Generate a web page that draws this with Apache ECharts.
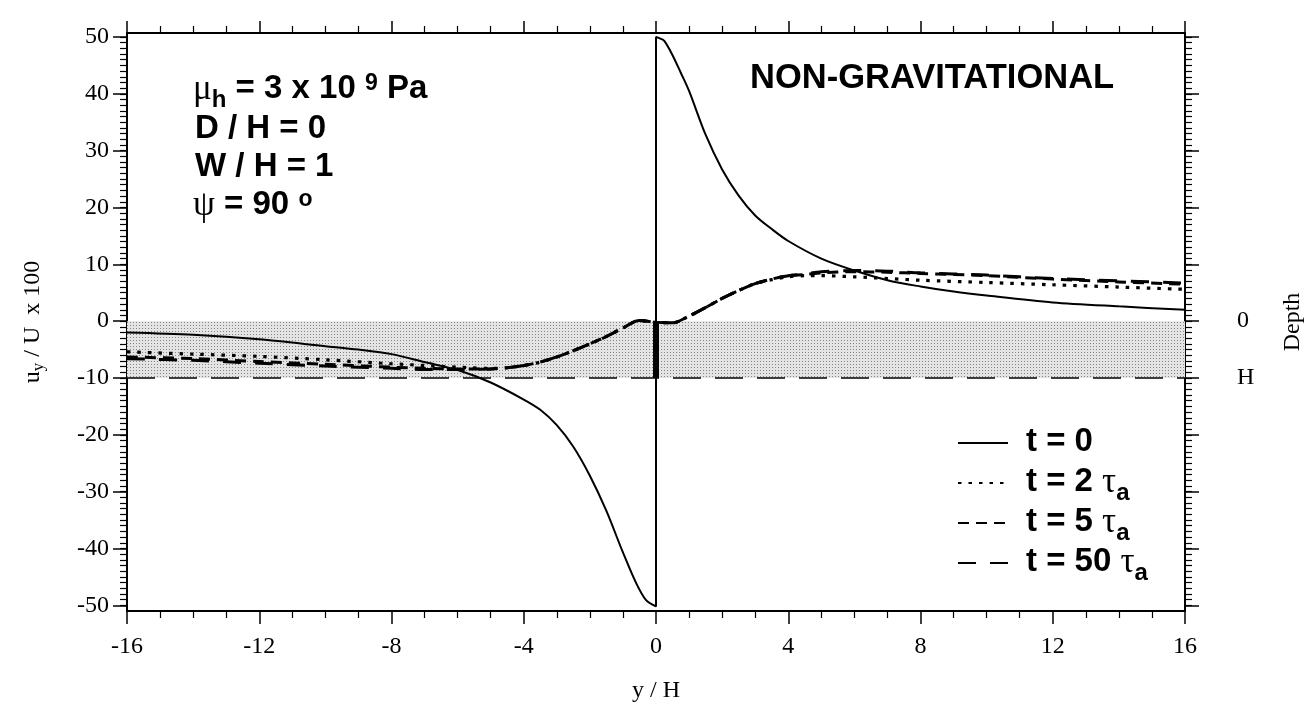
<!DOCTYPE html>
<html><head><meta charset="utf-8">
<script src="https://cdn.jsdelivr.net/npm/echarts@6/dist/echarts.min.js"></script>
<style>html,body{margin:0;padding:0;background:#fff}#c{width:1313px;height:713px}</style>
</head><body><div id="c"></div>
<script>
// ---- data ----
const t0X = [-16,-14,-12,-10,-9,-8,-7,-6,-5,-4,-3.5,-3,-2.5,-2,-1.5,-1,-0.6,-0.3,0,
             0,0.1,0.25,0.5,0.75,1,1.5,2,2.5,3,3.5,4,5,6,7,8,9,10,12,14,16];
const t0Y = [-2.0,-2.4,-3.2,-4.4,-5.0,-5.8,-7.2,-8.6,-10.8,-13.8,-15.6,-18.3,-22.1,-27.2,-33.4,-40.7,-46.1,-49.1,-50.2,
             50.0,49.8,49.3,46.8,43.7,40.5,32.8,26.7,22.1,18.6,16.2,14.1,11.0,8.9,7.2,6.1,5.2,4.5,3.3,2.6,2.0];
const relaxX = [-16,-14,-12,-10,-8,-7,-6,-5,-4.5,-4,-3.5,-3,-2.5,-2,-1.5,-1,-0.5,0,0.5,1,1.5,2,2.5,3,3.5,4,4.5,5,6,7,8,10,12,14,16];
const t2Y  = [-5.4,-5.8,-6.2,-6.8,-7.5,-7.8,-8.1,-8.3,-8.2,-7.8,-7.2,-6.3,-5.2,-4.0,-2.7,-1.2,0.1,-0.2,-0.3,0.9,2.4,4.0,5.4,6.6,7.3,7.8,8.0,8.0,7.8,7.5,7.2,6.8,6.4,6.0,5.6];
const t5Y  = [-6.3,-6.6,-7.1,-7.6,-8.1,-8.3,-8.4,-8.4,-8.2,-7.8,-7.2,-6.3,-5.2,-4.0,-2.7,-1.2,0.1,-0.2,-0.3,0.9,2.4,4.0,5.4,6.6,7.4,8.0,8.2,8.5,8.7,8.6,8.4,8.0,7.4,6.9,6.5];
const t50Y = [-6.6,-6.9,-7.4,-7.9,-8.3,-8.5,-8.5,-8.4,-8.2,-7.8,-7.2,-6.3,-5.2,-4.0,-2.7,-1.2,0.1,-0.2,-0.3,0.9,2.4,4.0,5.4,6.6,7.4,8.0,8.3,8.7,8.9,8.8,8.5,8.1,7.5,7.1,6.7];
const depthBand = [0, -10];          // y values of depth 0 and depth H
const faultX = 0;
const xRange = [-16, 16];
const yRange = [-51, 50.7];
const yMajorTicks = [-50,-40,-30,-20,-10,0,10,20,30,40,50];
const yMinorTicks = Array.from({length:101}, (_, i) => i - 50);
const depthTicks = [0, -10];
const depthTickLabels = ['0', 'H'];
const seriesNames = ['t0', 't2', 't5', 't50'];
const legendLabels = ['{b|t = 0}{sub| }', '{b|t = 2 }{g|τ}{sub|a}', '{b|t = 5 }{g|τ}{sub|a}', '{b|t = 50 }{g|τ}{sub|a}'];

const zip = (xs, ys) => xs.map((x, i) => [x, ys[i]]);

const SERIF = '"Liberation Serif", "Times New Roman", serif';
const SANS = '"Liberation Sans", Arial, sans-serif';
const R = {
  sp:  {width: 13},
  b:   {fontFamily: SANS, fontWeight: 'bold', fontSize: 33, lineHeight: 36, verticalAlign: 'top', color: '#000'},
  g:   {fontFamily: SERIF, fontSize: 35, lineHeight: 36, verticalAlign: 'top', color: '#000'},
  sub: {fontFamily: SANS, fontWeight: 'bold', fontSize: 24, lineHeight: 24, padding: [16, 0, 0, 0], verticalAlign: 'top', color: '#000'},
  sup: {fontFamily: SANS, fontWeight: 'bold', fontSize: 23, lineHeight: 23, verticalAlign: 'top', color: '#000'}
};

// stipple pattern for the layer
const pc = document.createElement('canvas');
pc.width = 3; pc.height = 3;
const pctx = pc.getContext('2d');
pctx.fillStyle = '#e4e4e4'; pctx.fillRect(0, 0, 3, 3);
pctx.fillStyle = '#858585'; pctx.fillRect(1, 1, 1, 1);

const axisCommon = {
  axisLine: {show: true, onZero: false, lineStyle: {color: '#000', width: 2}},
  splitLine: {show: false}
};
const tickFont = {fontFamily: SERIF, fontSize: 24, color: '#000'};

const chart = echarts.init(document.getElementById('c'), null, {renderer: 'canvas'});
chart.setOption({
  backgroundColor: '#fff',
  animation: false,
  grid: {left: 127, right: 127, top: 33, bottom: 102, containLabel: false},
  xAxis: [
    Object.assign({}, axisCommon, {
      type: 'value', position: 'bottom', min: xRange[0], max: xRange[1], interval: 4,
      axisTick: {show: true, inside: false, length: 13, lineStyle: {color: '#000', width: 1.5}},
      minorTick: {show: true, splitNumber: 4, length: 7, lineStyle: {color: '#000', width: 1.2}},
      axisLabel: Object.assign({margin: 24}, tickFont),
      name: 'y / H', nameLocation: 'middle', nameGap: 68,
      nameTextStyle: {fontFamily: SERIF, fontSize: 24, color: '#000'}
    }),
    Object.assign({}, axisCommon, {
      type: 'value', position: 'top', min: xRange[0], max: xRange[1], interval: 4,
      axisTick: {show: true, inside: false, length: 12, lineStyle: {color: '#000', width: 1.5}},
      minorTick: {show: true, splitNumber: 4, length: 7, lineStyle: {color: '#000', width: 1.2}},
      axisLabel: {show: false}
    })
  ],
  yAxis: [
    Object.assign({}, axisCommon, {
      type: 'value', position: 'left', min: yRange[0], max: yRange[1],
      axisTick: {show: true, inside: false, length: 14, customValues: yMajorTicks, lineStyle: {color: '#000', width: 1.5}},
      axisLabel: Object.assign({margin: 18, customValues: yMajorTicks}, tickFont),
      name: '{a|u}{s|y}{a| / U  x 100}', nameLocation: 'middle', nameGap: 80, nameRotate: 90,
      nameTextStyle: {rich: {
        a: {fontFamily: SERIF, fontSize: 24, color: '#000'},
        s: {fontFamily: SERIF, fontSize: 17, color: '#000', padding: [12, 0, 0, 0]}
      }}
    }),
    {
      type: 'value', position: 'left', min: yRange[0], max: yRange[1],
      axisLine: {show: false, onZero: false}, splitLine: {show: false}, axisLabel: {show: false},
      axisTick: {show: true, inside: false, length: 7, customValues: yMinorTicks, lineStyle: {color: '#000', width: 1.2}}
    },
    Object.assign({}, axisCommon, {
      type: 'value', position: 'right', min: yRange[0], max: yRange[1],
      axisTick: {show: true, inside: false, length: 14, customValues: yMajorTicks, lineStyle: {color: '#000', width: 1.5}},
      axisLabel: Object.assign({margin: 52, customValues: depthTicks,
        formatter: v => depthTickLabels[depthTicks.indexOf(v)] || ''}, tickFont),
      name: 'Depth', nameLocation: 'middle', nameGap: 96, nameRotate: 90,
      nameTextStyle: {fontFamily: SERIF, fontSize: 24, color: '#000'}
    }),
    {
      type: 'value', position: 'right', min: yRange[0], max: yRange[1],
      axisLine: {show: false, onZero: false}, splitLine: {show: false}, axisLabel: {show: false},
      axisTick: {show: true, inside: false, length: 7, customValues: yMinorTicks, lineStyle: {color: '#000', width: 1.2}}
    }
  ],
  legend: {
    data: seriesNames, orient: 'vertical', left: 952, top: 420,
    itemWidth: 50, itemHeight: 16, itemGap: 0,
    itemStyle: {opacity: 0},
    formatter: name => '{sp|}' + legendLabels[seriesNames.indexOf(name)],
    textStyle: {rich: R},
    selectedMode: false
  },
  graphic: [
    {type: 'text', x: 193, y: 72, style: {text: '{g|μ}{sub|h}{b| = 3 x 10 }{sup|9}{b| Pa}', rich: R}},
    {type: 'text', x: 195, y: 112, style: {text: '{b|D / H = 0}', rich: R}},
    {type: 'text', x: 195, y: 150, style: {text: '{b|W / H = 1}', rich: R}},
    {type: 'text', x: 193, y: 188, style: {text: '{g|ψ}{b| = 90 }{sup|o}', rich: R}},
    {type: 'text', x: 750, y: 61, style: {text: '{b|NON-GRAVITATIONAL}', rich: {b: Object.assign({}, R.b, {fontSize: 34.5})}}}
  ],
  series: [
    {
      name: 'depthH', type: 'line', z: 1, silent: true, symbol: 'none',
      data: [[xRange[0], depthBand[1]], [xRange[1], depthBand[1]]],
      lineStyle: {color: '#000', width: 1.5, type: [28, 14]},
      markArea: {silent: true, itemStyle: {color: {image: pc, repeat: 'repeat'}},
        data: [[{coord: [xRange[0], depthBand[0]]}, {coord: [xRange[1], depthBand[1]]}]]}
    },
    {
      name: 'fault', type: 'line', z: 3, silent: true, symbol: 'none',
      data: [[faultX, depthBand[0]], [faultX, depthBand[1]]],
      lineStyle: {color: '#000', width: 6, cap: 'butt'}
    },
    {name: 't0', type: 'line', symbol: 'none', smooth: 0.3, data: zip(t0X, t0Y), z: 4,
     lineStyle: {color: '#000', width: 2}, itemStyle: {color: '#000'}},
    {name: 't2', type: 'line', symbol: 'none', smooth: 0.3, data: zip(relaxX, t2Y), z: 4,
     lineStyle: {color: '#000', width: 3.2, type: [3.5, 7]}, itemStyle: {color: '#000'}},
    {name: 't5', type: 'line', symbol: 'none', smooth: 0.3, data: zip(relaxX, t5Y), z: 4,
     lineStyle: {color: '#000', width: 3, type: [11, 7]}, itemStyle: {color: '#000'}},
    {name: 't50', type: 'line', symbol: 'none', smooth: 0.3, data: zip(relaxX, t50Y), z: 4,
     lineStyle: {color: '#000', width: 3, type: [18, 14]}, itemStyle: {color: '#000'}}
  ]
});
</script></body></html>
